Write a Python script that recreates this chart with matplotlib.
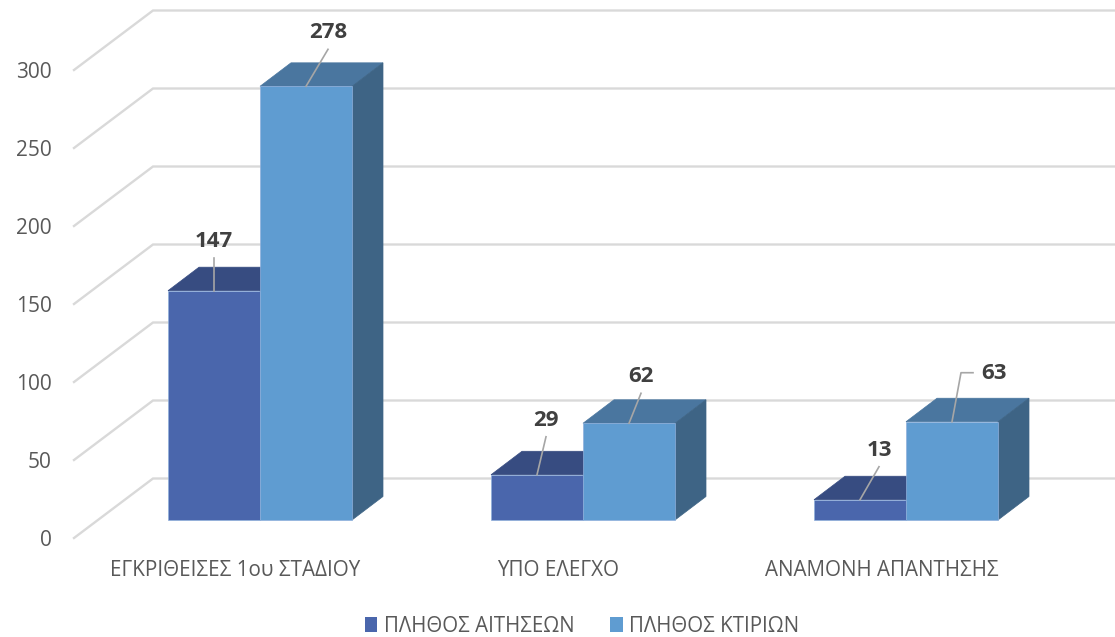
import matplotlib
matplotlib.use('Agg')
import matplotlib.pyplot as plt
from matplotlib.patches import Polygon, Patch

plt.rcParams['font.family'] = ['Open Sans', 'DejaVu Sans']

categories = ['ΕΓΚΡΙΘΕΙΣΕΣ 1ου ΣΤΑΔΙΟΥ', 'ΥΠΟ ΕΛΕΓΧΟ', 'ΑΝΑΜΟΝΗ ΑΠΑΝΤΗΣΗΣ']
aitiseis = [147, 29, 13]
ktiria = [278, 62, 63]
yticks = [0, 50, 100, 150, 200, 250, 300]

W, H = 1115, 637
PX_X = 323.0    # pixels per category
PX_Y = 1.56     # pixels per value unit
LEFT, ZERO = 74, 538
BAR_W = 92.0

# leader line bends, pixels from the bar's top front centre
leaders_a = [[(0, 33)], [(9, 38)], [(19, 33)]]
leaders_k = [[(22, 37)], [(12, 30)], [(9, 49), (21, 49)]]
# label centres, pixels from the bar's top front centre
labels_a = [(0, 49), (9, 54), (19, 49)]
labels_k = [(22, 54), (12, 47), (42, 48)]


def dx(px):
    return px / PX_X


def dy(px):
    return px / PX_Y


def draw_bar(ax, x0, value, front, top, side):
    w = dx(BAR_W)
    base = dy(18)
    ox, oy = dx(31), dy(23.5)
    y1 = base + value
    ax.add_patch(Polygon([(x0, y1), (x0 + w, y1), (x0 + w + ox, y1 + oy), (x0 + ox, y1 + oy)],
                         fc=top, ec=top, lw=0.5, zorder=3))
    ax.add_patch(Polygon([(x0 + w, base), (x0 + w + ox, base + oy), (x0 + w + ox, y1 + oy), (x0 + w, y1)],
                         fc=side, ec=side, lw=0.5, zorder=3))
    ax.add_patch(Polygon([(x0, base), (x0 + w, base), (x0 + w, y1), (x0, y1)],
                         fc=front, ec='#8FB0DC', lw=0.5, zorder=3))
    return x0 + w / 2, y1


def label_bar(ax, cx, cy, value, bends, text_off):
    xs = [cx] + [cx + dx(b[0]) for b in bends]
    ys = [cy] + [cy + dy(b[1]) for b in bends]
    ax.plot(xs, ys, color='#A6A6A6', lw=1.2, zorder=6, clip_on=False)
    ax.text(cx + dx(text_off[0]), cy + dy(text_off[1]), str(value), ha='center', va='center',
            fontsize=16, fontweight='bold', color='#404040', zorder=7)


fig = plt.figure(figsize=(W / 100, H / 100), dpi=100)
ax = fig.add_axes([LEFT / W, (H - ZERO) / H, (W - LEFT) / W, ZERO / H])
ax.set_xlim((LEFT - 235.5) / PX_X, (W - 235.5) / PX_X)
ax.set_ylim(0, ZERO / PX_Y)
for s in ax.spines.values():
    s.set_visible(False)

# side wall and back wall gridlines
wall_x, wall_y = dx(79), dy(59.5)
x_start = ax.get_xlim()[0]
for v in yticks:
    ax.plot([x_start, x_start + wall_x, ax.get_xlim()[1]], [v, v + wall_y, v + wall_y],
            color='#D9D9D9', lw=1.7, zorder=1, clip_on=False, solid_joinstyle='miter')

for i in range(len(categories)):
    x_a = i + dx(168 - 235.5)
    x_k = x_a + dx(BAR_W)
    top_a = draw_bar(ax, x_a, aitiseis[i], '#4A66AC', '#374C81', '#374C81')
    top_k = draw_bar(ax, x_k, ktiria[i], '#5F9CD1', '#4A769F', '#3E6485')
    label_bar(ax, top_a[0], top_a[1], aitiseis[i], leaders_a[i], labels_a[i])
    label_bar(ax, top_k[0], top_k[1], ktiria[i], leaders_k[i], labels_k[i])

ax.set_yticks(yticks)
ax.set_xticks(range(len(categories)))
ax.set_xticklabels(categories)
ax.tick_params(axis='y', length=0, pad=16, labelsize=15, labelcolor='#595959')
ax.tick_params(axis='x', length=0, pad=16, labelsize=14.9, labelcolor='#595959')

handles = [Patch(fc='#4A66AC', label='ΠΛΗΘΟΣ ΑΙΤΗΣΕΩΝ'), Patch(fc='#5F9CD1', label='ΠΛΗΘΟΣ ΚΤΙΡΙΩΝ')]
leg = fig.legend(handles=handles, loc='center', bbox_to_anchor=(582 / W, (H - 626) / H), ncol=2,
                 frameon=False, fontsize=14.8, handlelength=0.62, handleheight=0.7,
                 handletextpad=0.3, columnspacing=1.75, labelcolor='#595959', borderpad=0)

fig.savefig('out.png', dpi=100)
